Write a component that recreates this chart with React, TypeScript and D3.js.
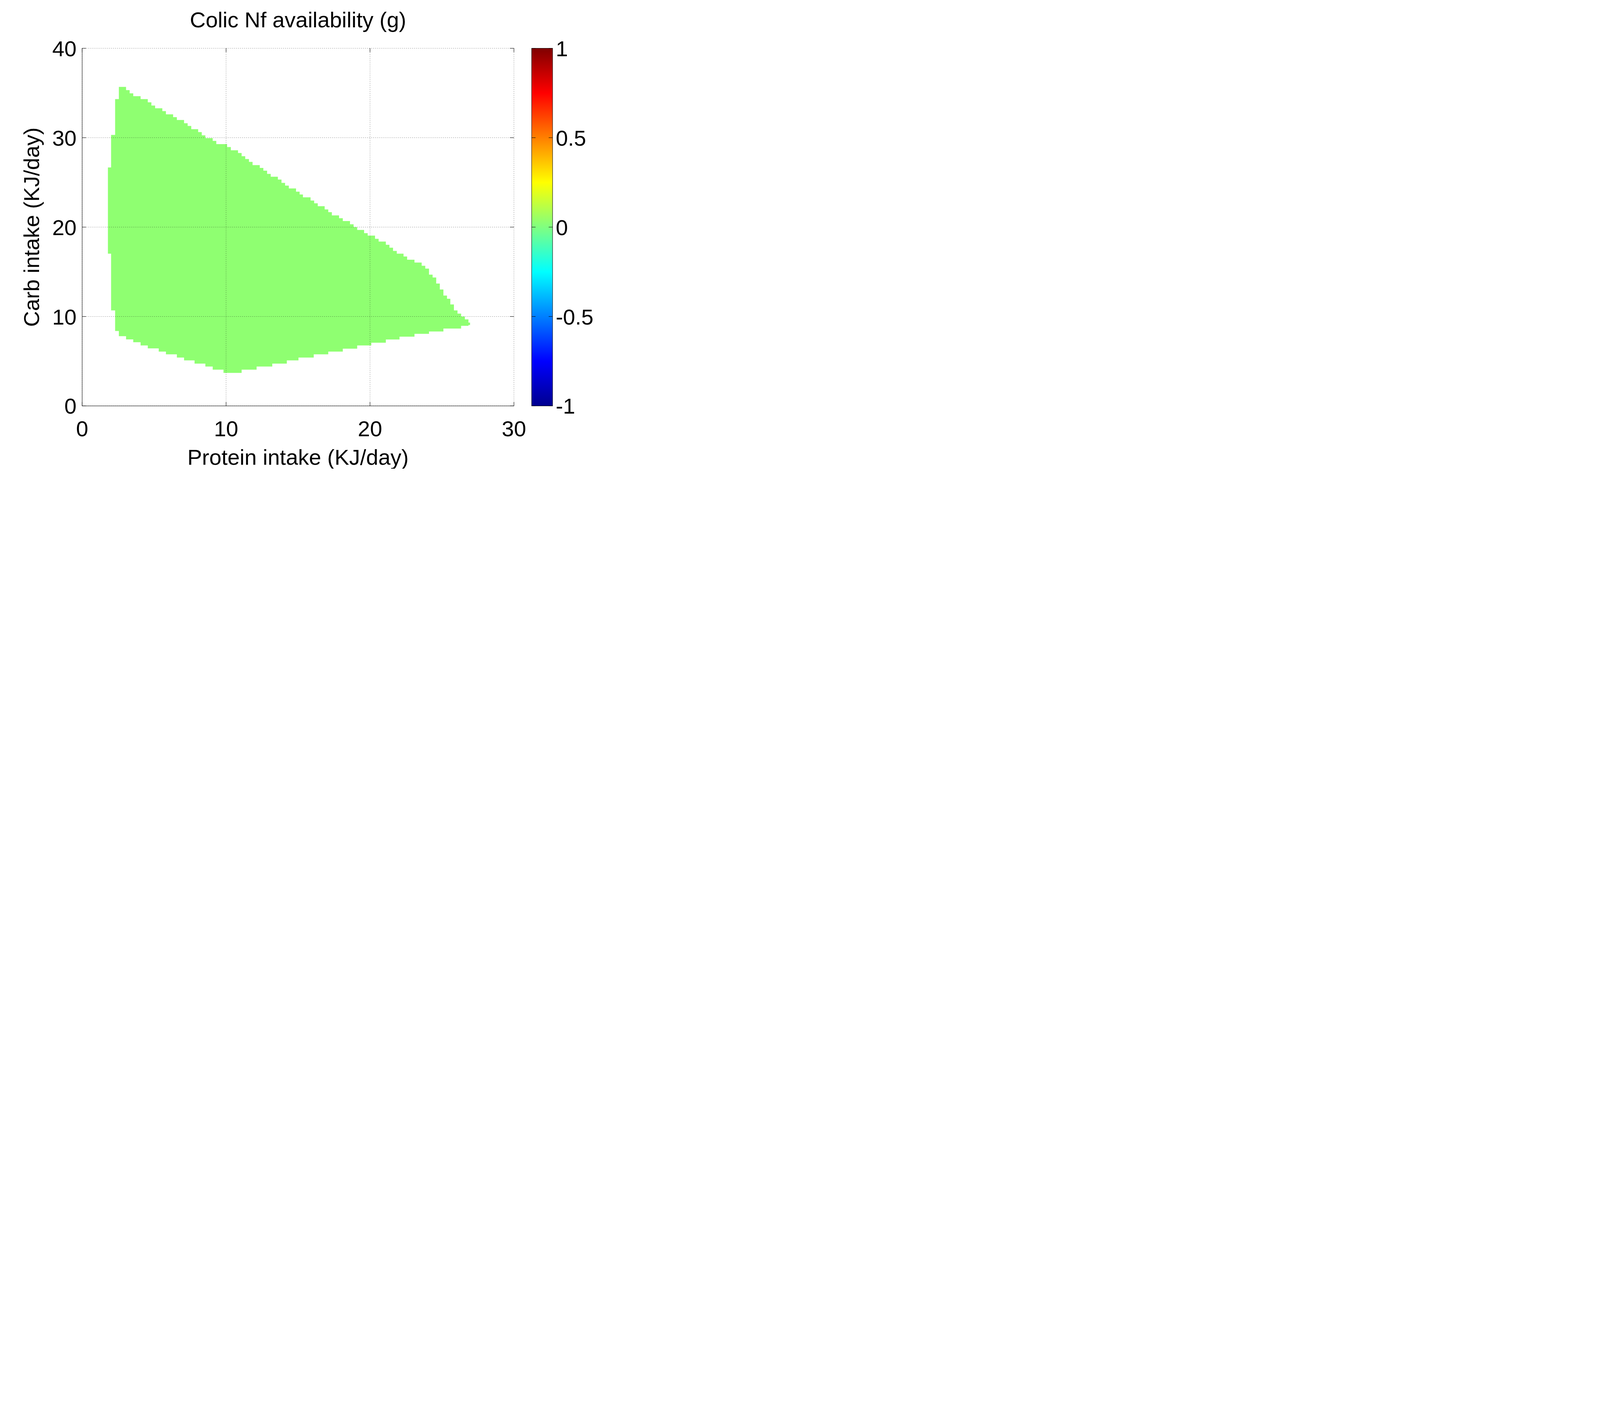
import * as d3 from "d3"

// upper boundary steps: [protein, carb top] (each step runs until next x)
const upperSteps: [number, number][] = [
  [1.79, 26.67], [2.01, 30.31], [2.29, 34.32], [2.55, 35.68], [3.05, 35.32], [3.3, 34.96],
  [3.55, 34.64], [4.06, 34.32], [4.56, 33.96], [4.81, 33.6], [5.07, 33.29], [5.57, 32.97],
  [5.82, 32.61], [6.32, 32.3], [6.58, 31.98], [7.08, 31.62], [7.33, 31.31], [7.58, 30.95],
  [8.06, 30.63], [8.31, 30.27], [8.56, 29.95], [9.07, 29.64], [9.32, 29.28], [10.07, 28.96],
  [10.33, 28.6], [10.83, 28.29], [11.08, 27.93], [11.33, 27.61], [11.59, 27.3], [11.84, 26.94],
  [12.34, 26.62], [12.59, 26.31], [12.85, 25.95], [13.1, 25.63], [13.6, 25.32], [13.85, 24.95],
  [14.1, 24.64], [14.36, 24.32], [14.86, 23.96], [15.11, 23.65], [15.34, 23.33], [15.87, 22.97],
  [16.12, 22.66], [16.37, 22.34], [16.85, 21.98], [17.1, 21.67], [17.35, 21.31], [17.85, 20.99],
  [18.11, 20.68], [18.61, 20.32], [18.86, 20.0], [19.11, 19.68], [19.59, 19.32], [19.84, 19.05],
  [20.35, 18.69], [20.6, 18.38], [21.1, 18.02], [21.35, 17.7], [21.6, 17.34], [21.86, 17.03],
  [22.33, 16.71], [22.58, 16.35], [23.09, 16.04], [23.59, 15.68], [23.84, 15.36], [24.1, 14.68],
  [24.35, 14.37], [24.6, 13.69], [24.85, 13.02], [25.1, 12.34], [25.35, 11.98], [25.58, 11.35],
  [25.83, 10.68], [26.08, 10.32], [26.33, 10.0], [26.59, 9.68], [26.84, 9.32],
]
// lower boundary steps: [protein, carb bottom]
const lowerSteps: [number, number][] = [
  [1.79, 17.03], [2.01, 10.68], [2.29, 8.38], [2.55, 7.8], [3.05, 7.44], [3.55, 7.12],
  [4.06, 6.76], [4.56, 6.44], [5.32, 6.08], [5.82, 5.77], [6.58, 5.41], [7.08, 5.09],
  [7.81, 4.73], [8.56, 4.41], [9.07, 4.05], [9.82, 3.69], [11.08, 4.05], [12.12, 4.41],
  [13.21, 4.73], [14.22, 5.09], [15.03, 5.41], [16.09, 5.77], [17.1, 6.08], [18.11, 6.4],
  [19.11, 6.76], [20.09, 7.07], [21.1, 7.43], [22.05, 7.75], [23.09, 8.06], [24.1, 8.33],
  [25.1, 8.65], [26.33, 8.96], [26.84, 9.05],
]
const regionEnd = 26.95
const regionValue = 0.03

const xTicks = [0, 10, 20, 30]
const yTicks = [0, 10, 20, 30, 40]
const cbTicks = [-1, -0.5, 0, 0.5, 1]
const jetValues = [-1, -0.75, -0.25, 0, 0.25, 0.75, 1]
const jetColors = ["#00008f", "#0000ff", "#00ffff", "#80ff80", "#ffff00", "#ff0000", "#800000"]

const W = 4800
const H = 3600
const m = { left: 631, right: 3947, top: 371, bottom: 3118 }
const cb = { left: 4083, right: 4244 }
const font = "'Liberation Sans', Arial, sans-serif"

export default function App() {
  const x = d3.scaleLinear().domain([0, 30]).range([m.left, m.right])
  const y = d3.scaleLinear().domain([0, 40]).range([m.bottom, m.top])
  const cy = d3.scaleLinear().domain([-1, 1]).range([m.bottom, m.top])
  const jetScale = d3.scaleLinear<string>().domain(jetValues).range(jetColors)

  const stepPts = (steps: [number, number][]) => {
    const pts: [number, number][] = []
    steps.forEach((s, i) => {
      const xe = i < steps.length - 1 ? steps[i + 1][0] : regionEnd
      pts.push([x(s[0]), y(s[1])], [x(xe), y(s[1])])
    })
    return pts
  }
  const pts = [...stepPts(upperSteps), ...stepPts(lowerSteps).reverse()]
  const path = d3.line()(pts) + "Z"

  const tl = 30
  return (
    <svg width={1600} height={1200} viewBox={`0 0 ${W} ${H}`} style={{ position: "absolute", left: 0, top: 0, background: "#fff" }} fontFamily={font}>
      <defs>
        <linearGradient id="jet" x1="0" y1="1" x2="0" y2="0">
          {jetValues.map((v, i) => (
            <stop key={i} offset={(v + 1) / 2} stopColor={jetColors[i]} />
          ))}
        </linearGradient>
      </defs>
      <rect width={W} height={H} fill="#fff" />
      <path d={path} fill={jetScale(regionValue)} />
      {/* grid */}
      {xTicks.map(t => (
        <line key={"gx" + t} x1={x(t)} x2={x(t)} y1={m.top} y2={m.bottom} stroke="#000" strokeWidth={3} strokeDasharray="3 12" />
      ))}
      {yTicks.map(t => (
        <line key={"gy" + t} x1={m.left} x2={m.right} y1={y(t)} y2={y(t)} stroke="#000" strokeWidth={3} strokeDasharray="3 12" />
      ))}
      <line x1={m.left} x2={m.left} y1={m.top} y2={m.bottom} stroke="#000" strokeWidth={3} />
      <line x1={m.left} x2={m.right} y1={m.bottom} y2={m.bottom} stroke="#000" strokeWidth={3} />
      {xTicks.map(t => (
        <g key={"tx" + t}>
          <line x1={x(t)} x2={x(t)} y1={m.bottom} y2={m.bottom - tl} stroke="#000" strokeWidth={3} />
          <line x1={x(t)} x2={x(t)} y1={m.top} y2={m.top + tl} stroke="#000" strokeWidth={3} />
          <text x={x(t)} y={3350} textAnchor="middle" fontSize={168}>{t}</text>
        </g>
      ))}
      {yTicks.map(t => (
        <g key={"ty" + t}>
          <line x1={m.left} x2={m.left + tl} y1={y(t)} y2={y(t)} stroke="#000" strokeWidth={3} />
          <line x1={m.right} x2={m.right - tl} y1={y(t)} y2={y(t)} stroke="#000" strokeWidth={3} />
          <text x={588} y={y(t)} dy="0.36em" textAnchor="end" fontSize={168}>{t}</text>
        </g>
      ))}
      {/* colorbar */}
      <rect x={cb.left} y={m.top} width={cb.right - cb.left} height={m.bottom - m.top} fill="url(#jet)" stroke="#000" strokeWidth={3} />
      {cbTicks.map(t => (
        <g key={"cb" + t}>
          <line x1={cb.left} x2={cb.left + tl} y1={cy(t)} y2={cy(t)} stroke="#000" strokeWidth={3} />
          <line x1={cb.right} x2={cb.right - tl} y1={cy(t)} y2={cy(t)} stroke="#000" strokeWidth={3} />
          <text x={4268} y={cy(t)} dy="0.36em" fontSize={168}>{t}</text>
        </g>
      ))}
      <text x={(m.left + m.right) / 2} y={210} textAnchor="middle" fontSize={168}>Colic Nf availability (g)</text>
      <text x={(m.left + m.right) / 2} y={3570} textAnchor="middle" fontSize={168}>Protein intake (KJ/day)</text>
      <text transform={`translate(300,${(m.top + m.bottom) / 2}) rotate(-90)`} textAnchor="middle" fontSize={168}>Carb intake (KJ/day)</text>
    </svg>
  )
}
